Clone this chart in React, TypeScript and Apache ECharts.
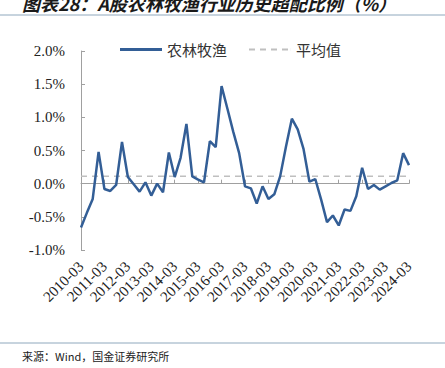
import React, { useEffect, useRef } from "react";
import * as echarts from "echarts";

const quarters = [
  "2010-03","2010-06","2010-09","2010-12",
  "2011-03","2011-06","2011-09","2011-12",
  "2012-03","2012-06","2012-09","2012-12",
  "2013-03","2013-06","2013-09","2013-12",
  "2014-03","2014-06","2014-09","2014-12",
  "2015-03","2015-06","2015-09","2015-12",
  "2016-03","2016-06","2016-09","2016-12",
  "2017-03","2017-06","2017-09","2017-12",
  "2018-03","2018-06","2018-09","2018-12",
  "2019-03","2019-06","2019-09","2019-12",
  "2020-03","2020-06","2020-09","2020-12",
  "2021-03","2021-06","2021-09","2021-12",
  "2022-03","2022-06","2022-09","2022-12",
  "2023-03","2023-06","2023-09","2023-12",
  "2024-03",
];

const overweight = [
  -0.66, -0.44, -0.23, 0.48,
  -0.08, -0.11, -0.02, 0.63,
  0.10, -0.01, -0.12, 0.02,
  -0.18, 0.00, -0.13, 0.47,
  0.10, 0.39, 0.90, 0.11,
  0.06, 0.02, 0.64, 0.55,
  1.47, 1.13, 0.78, 0.46,
  -0.04, -0.07, -0.30, -0.04,
  -0.23, -0.16, 0.11, 0.56,
  0.98, 0.82, 0.52, 0.03,
  0.07, -0.24, -0.58, -0.48,
  -0.63, -0.39, -0.41, -0.19,
  0.24, -0.08, -0.02, -0.09,
  -0.04, 0.01, 0.05, 0.46,
  0.28,
];

const averageValue = 0.11;
const averageLine = quarters.map(() => averageValue);

const seriesNames = ["农林牧渔", "平均值"];
const titleText = "图表28：A股农林牧渔行业历史超配比例（%）";
const sourceText = "来源：Wind，国金证券研究所";

const solidIcon = "path://M0,0h42v3h-42z";
const dashedIcon =
  "path://M0,0.5h6v2h-6zM11,0.5h6v2h-6zM22,0.5h6v2h-6zM33,0.5h6v2h-6zM41.9,0h0.1v3h-0.1z";

export default function App() {
  const ref = useRef<HTMLDivElement>(null);
  useEffect(() => {
    if (!ref.current) return;
    const chart = echarts.init(ref.current, undefined, { renderer: "svg" });
    const serif = "'Liberation Serif', 'Times New Roman', serif";
    const cjk = "'Noto Sans CJK SC', sans-serif";
    chart.setOption({
      animation: false,
      backgroundColor: "#ffffff",
      legend: {
        top: 37,
        left: 115,
        itemWidth: 42,
        itemHeight: 3,
        itemGap: 22,
        data: [
          { name: seriesNames[0], icon: solidIcon },
          { name: seriesNames[1], icon: dashedIcon },
        ],
        textStyle: { fontFamily: cjk, fontSize: 15, color: "#333" },
      },
      grid: { left: 81, right: 36, top: 51, bottom: 118 },
      xAxis: [
        {
          type: "category",
          data: quarters,
          boundaryGap: false,
          position: "bottom",
          axisLine: { show: false, onZero: false },
          axisTick: { show: false },
          axisLabel: {
            interval: 3,
            rotate: 45,
            margin: 14,
            fontFamily: serif,
            fontSize: 15,
            color: "#222",
          },
        },
        {
          type: "category",
          data: quarters,
          boundaryGap: false,
          position: "bottom",
          axisLine: { show: true, onZero: true, lineStyle: { color: "#a0a0a0", width: 1 } },
          axisTick: { show: true, inside: true, length: 4, interval: 3, lineStyle: { color: "#a0a0a0" } },
          axisLabel: { show: false },
        },
      ],
      yAxis: {
        type: "value",
        min: -1,
        max: 2,
        interval: 0.5,
        axisLine: { show: true, lineStyle: { color: "#a0a0a0" } },
        axisTick: { show: true, inside: true, length: 4, lineStyle: { color: "#a0a0a0" } },
        splitLine: { show: false },
        axisLabel: {
          margin: 16,
          fontFamily: serif,
          fontSize: 15,
          color: "#222",
          formatter: (v: number) => v.toFixed(1) + "%",
        },
      },
      series: [
        {
          name: seriesNames[0],
          type: "line",
          data: overweight,
          symbol: "none",
          lineStyle: { color: "#335E96", width: 2.5 },
          itemStyle: { color: "#335E96" },
          z: 3,
        },
        {
          name: seriesNames[1],
          type: "line",
          data: averageLine,
          symbol: "none",
          lineStyle: { color: "#bfbfbf", width: 1.5, type: [6, 5] },
          itemStyle: { color: "#bfbfbf" },
          z: 2,
        },
      ],
      graphic: [
        {
          type: "text",
          left: 22,
          top: -6,
          style: {
            text: titleText,
            font: "italic bold 18px 'Noto Sans CJK SC', sans-serif",
            fill: "#1a1a1a",
          },
        },
        {
          type: "line",
          shape: { x1: 0, y1: 15, x2: 445, y2: 15 },
          style: { stroke: "#8fa8bd", lineWidth: 1 },
        },
        {
          type: "line",
          shape: { x1: 0, y1: 343, x2: 445, y2: 343 },
          style: { stroke: "#8fa8bd", lineWidth: 1 },
        },
        {
          type: "text",
          left: 22,
          top: 350,
          style: {
            text: sourceText,
            font: "11px 'Noto Sans CJK SC', sans-serif",
            fill: "#222",
          },
        },
      ],
    });
    return () => chart.dispose();
  }, []);
  return (
    <div
      ref={ref}
      style={{ position: "fixed", left: 0, top: 0, width: 445, height: 368 }}
    />
  );
}
